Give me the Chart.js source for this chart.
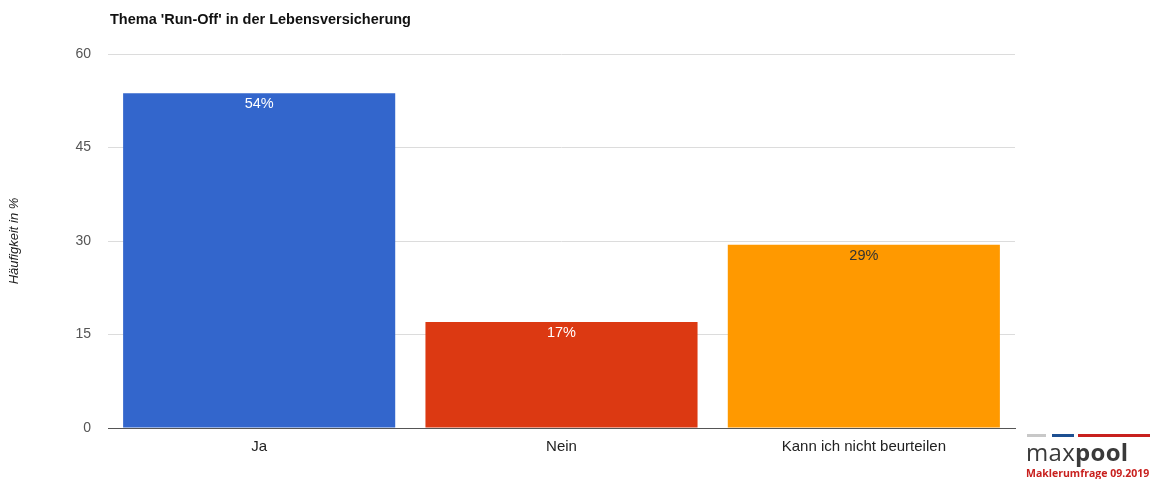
<!DOCTYPE html>
<html>
<head>
<meta charset="utf-8">
<script src="https://cdn.jsdelivr.net/npm/chart.js@4"></script>
<style>
  html, body { margin: 0; padding: 0; background: #fff; }
  #wrap { position: relative; width: 1152px; height: 479px; overflow: hidden; }
  #logo { position: absolute; left: 1026px; top: 434px; width: 126px; font-family: "Open Sans", "Liberation Sans", sans-serif; }
  #logo .bars { position: relative; height: 4px; }
  #logo .bars span { position: absolute; top: 0; height: 3px; }
  #logo .name { font-size: 24px; color: #3a3a3a; line-height: 24px; margin-top: 2px; letter-spacing: 0.3px; }
  #logo .name b { font-weight: 700; }
  #logo .sub { font-size: 10.5px; color: #c8201e; font-weight: 700; line-height: 12px; margin-top: 3px; }
</style>
</head>
<body>
<div id="wrap">
  <canvas id="chart" width="1152" height="479"></canvas>
  <div id="logo">
    <div class="bars">
      <span style="left:1px;width:19px;background:#c8c8c8"></span>
      <span style="left:26px;width:22px;background:#1d4f91"></span>
      <span style="left:52px;width:72px;background:#c8201e"></span>
    </div>
    <div class="name">max<b>pool</b></div>
    <div class="sub">Maklerumfrage 09.2019</div>
  </div>
</div>
<script>
  // Daten
  const categories = ['Ja', 'Nein', 'Kann ich nicht beurteilen'];
  const values     = [53.7, 17.0, 29.4];
  const barColors  = ['#3366cc', '#dc3912', '#ff9900'];
  const labelColors = ['#ffffff', '#ffffff', '#333333'];
  const yTicks     = [0, 15, 30, 45, 60];
  const chartTitle = "Thema 'Run-Off' in der Lebensversicherung";

  // Titel oben links über der Plotfläche
  const titlePlugin = {
    id: 'topTitle',
    afterDraw(chart) {
      const ctx = chart.ctx;
      ctx.save();
      ctx.font = 'bold 14.5px "Liberation Sans", Arial, sans-serif';
      ctx.fillStyle = '#111';
      ctx.textBaseline = 'middle';
      ctx.fillText(chartTitle, chart.chartArea.left + 2, 20);
      ctx.restore();
    }
  };

  // Prozentwerte in den Balken
  const valueLabels = {
    id: 'valueLabels',
    afterDatasetsDraw(chart) {
      const ctx = chart.ctx;
      const meta = chart.getDatasetMeta(0);
      ctx.save();
      ctx.font = '14.5px "Liberation Sans", Arial, sans-serif';
      ctx.textAlign = 'center';
      ctx.textBaseline = 'middle';
      meta.data.forEach((bar, i) => {
        ctx.fillStyle = labelColors[i];
        ctx.fillText(Math.round(values[i]) + '%', bar.x, bar.y + 11);
      });
      ctx.restore();
    }
  };

  new Chart(document.getElementById('chart'), {
    type: 'bar',
    data: {
      labels: categories,
      datasets: [{
        data: values,
        backgroundColor: barColors,
        borderWidth: 0,
        barPercentage: 0.9,
        categoryPercentage: 1.0
      }]
    },
    options: {
      responsive: false,
      animation: false,
      layout: { padding: { top: 54, right: 137, left: 0, bottom: 0 } },
      plugins: { legend: { display: false }, tooltip: { enabled: false }, title: { display: false } },
      scales: {
        x: {
          grid: { display: false, drawTicks: false },
          border: { display: true, color: '#555', width: 1 },
          ticks: { color: '#222', padding: 10, font: { family: '"Liberation Sans", Arial, sans-serif', size: 15 } },
          afterFit(s) { s.height = 51; }
        },
        y: {
          min: 0, max: 60,
          afterBuildTicks(s) { s.ticks = yTicks.map(v => ({ value: v })); },
          grid: { color: '#dcdcdc', drawTicks: false },
          border: { display: false },
          ticks: { color: '#555', padding: 17, font: { family: '"Liberation Sans", Arial, sans-serif', size: 14 } },
          title: {
            display: true,
            text: 'Häufigkeit in %',
            color: '#222',
            padding: { top: 7, bottom: 0 },
            font: { family: '"Liberation Sans", Arial, sans-serif', size: 13, style: 'italic' }
          },
          afterFit(s) { s.width = 108; }
        }
      }
    },
    plugins: [titlePlugin, valueLabels]
  });
</script>
</body>
</html>
